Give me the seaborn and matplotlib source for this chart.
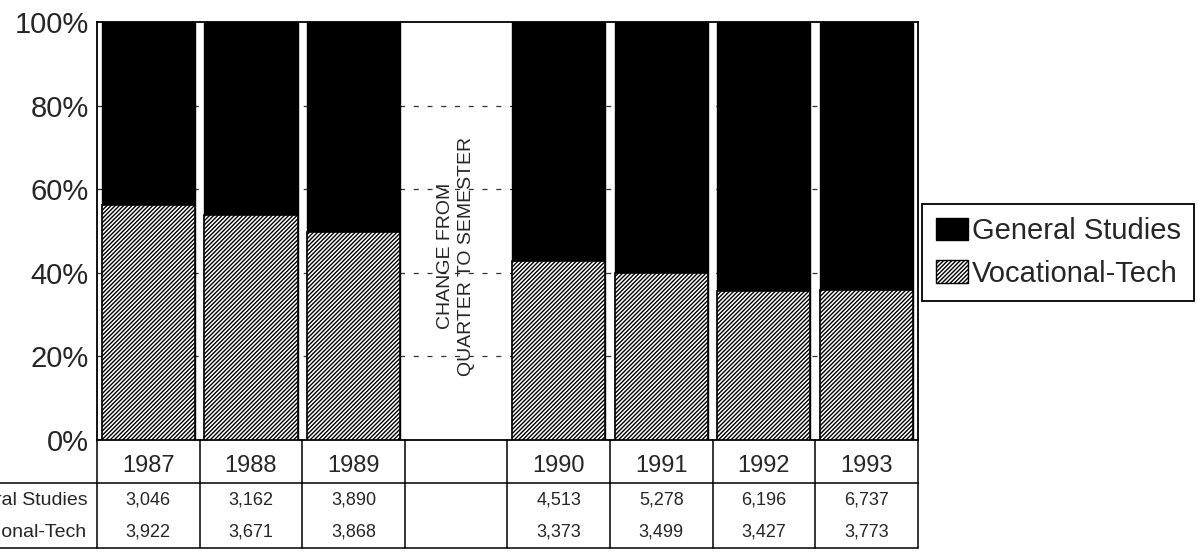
import matplotlib
matplotlib.use("Agg")
import matplotlib.pyplot as plt
from matplotlib.patches import Patch
from matplotlib.ticker import FuncFormatter
import numpy as np
import pandas as pd
import seaborn as sns

# enrollment counts
years = ["1987", "1988", "1989", "1990", "1991", "1992", "1993"]
general_studies = [3046, 3162, 3890, 4513, 5278, 6196, 6737]
vocational_tech = [3922, 3671, 3868, 3373, 3499, 3427, 3773]

GAP = " "  # empty slot where the calendar changed
order = years[:3] + [GAP] + years[3:]
gap_note = "CHANGE FROM\nQUARTER TO SEMESTER"

df = pd.DataFrame({"year": years, "gen": general_studies, "voc": vocational_tech})
df["total_pct"] = 100.0
df["voc_pct"] = 100.0 * df["voc"] / (df["gen"] + df["voc"])

sns.set_style("white")
plt.rcParams["font.family"] = ["Liberation Sans", "DejaVu Sans"]
plt.rcParams["hatch.linewidth"] = 1.0

fig = plt.figure(figsize=(11.98, 5.6), dpi=100)
ax = fig.add_axes([0.081, 0.214, 0.685, 0.747])

# dashed grid sits behind the bars, only shows in the gap
for yv in [20, 40, 60, 80]:
    ax.axhline(yv, color="#333333", lw=0.9, ls=(0, (4, 7)), zorder=0)

sns.barplot(data=df, x="year", y="total_pct", order=order, color="black",
            saturation=1, width=0.91, edgecolor="black", linewidth=1, ax=ax, zorder=2)
sns.barplot(data=df, x="year", y="voc_pct", order=order, color="white",
            saturation=1, width=0.91, edgecolor="black", linewidth=1.2,
            hatch="////////", ax=ax, zorder=3)

ax.set_xlim(-0.5, len(order) - 0.5)
ax.set_ylim(0, 100)
ax.set_yticks(range(0, 101, 20))
ax.yaxis.set_major_formatter(FuncFormatter(lambda v, _: f"{v:.0f}%"))
ax.tick_params(axis="y", labelsize=21, length=0, pad=6)
ax.set_xticks([])
ax.set_xlabel("")
ax.set_ylabel("")
for sp in ax.spines.values():
    sp.set_color("black")
    sp.set_linewidth(1.3)
    sp.set_visible(True)

gap_x = order.index(GAP)
ax.text(gap_x, 44, gap_note, rotation=90, ha="center", va="center",
        fontsize=14, linespacing=1.25, zorder=4)

# data table below the plot
tr = ax.get_xaxis_transform()
row_mid = -0.103
table_bot = -0.258
line_kw = dict(color="black", lw=1.1, clip_on=False, transform=tr)

ax.plot([-2.0, len(order) - 0.5], [row_mid, row_mid], **line_kw)
ax.plot([-2.0, len(order) - 0.5], [table_bot, table_bot], **line_kw)
for b in np.arange(-0.5, len(order), 1.0):
    ax.plot([b, b], [0, table_bot], **line_kw)

for i, lab in enumerate(order):
    if lab == GAP:
        continue
    r = df[df["year"] == lab].iloc[0]
    ax.text(i, -0.062, lab, transform=tr, ha="center", va="center", fontsize=17)
    ax.text(i, -0.144, f"{r['gen']:,}", transform=tr, ha="center", va="center", fontsize=13)
    ax.text(i, -0.220, f"{r['voc']:,}", transform=tr, ha="center", va="center", fontsize=13)

# row labels run off the left edge, as in the original scan
ax.text(-0.012, -0.144, "General Studies", transform=ax.transAxes,
        ha="right", va="center", fontsize=14)
ax.text(-0.012, -0.220, "Vocational-Tech", transform=ax.transAxes,
        ha="right", va="center", fontsize=14)

handles = [
    Patch(facecolor="black", edgecolor="black", label="General Studies"),
    Patch(facecolor="white", edgecolor="black", hatch="////////", label="Vocational-Tech"),
]
leg = fig.legend(handles=handles, loc="upper left", bbox_to_anchor=(0.770, 0.636),
                 bbox_transform=fig.transFigure, fontsize=21, handlelength=1.1,
                 handleheight=0.8, handletextpad=0.15, borderpad=0.45,
                 labelspacing=0.5, borderaxespad=0, fancybox=False, framealpha=1)
leg.get_frame().set_edgecolor("black")
leg.get_frame().set_linewidth(1.3)

fig.savefig("out.png", dpi=100)
plt.close(fig)
